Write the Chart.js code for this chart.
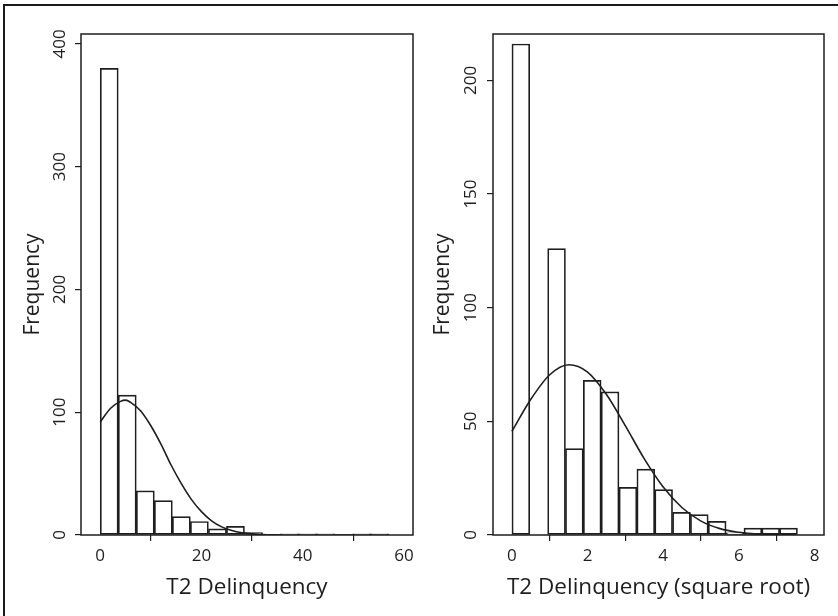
<!DOCTYPE html>
<html>
<head>
<meta charset="utf-8">
<script src="https://cdn.jsdelivr.net/npm/chart.js@4.4.1/dist/chart.umd.min.js"></script>
<style>
  html, body { margin: 0; padding: 0; background: #fff; overflow: hidden; }
  #page { position: relative; width: 838px; height: 616px; overflow: hidden; }
  #frame {
    position: absolute; left: 3px; top: 4px; width: 900px; height: 700px;
    border-top: 2.5px solid #1a1a1a; border-left: 2.5px solid #1a1a1a;
  }
  canvas { position: absolute; top: 0; }
  #left { left: 0; }
  #right { left: 419px; }
</style>
</head>
<body>
<div id="page">
  <div id="frame"></div>
  <canvas id="left" width="419" height="616"></canvas>
  <canvas id="right" width="419" height="616"></canvas>
</div>
<script>
// raw T2 delinquency, 16 bins of width ~3.56 (0..57)
const rawBinMids = [1.78, 5.34, 8.91, 12.47, 16.03, 19.59, 23.16, 26.72, 30.28, 33.84, 37.41, 40.97, 44.53, 48.09, 51.66, 55.22];
const rawCounts = [380, 114, 36, 28, 15, 11, 5, 7, 2, 0, 1, 1, 1, 0, 1, 1];
const rawCurveX = [0, 2, 4, 5, 6, 8, 10, 12, 14, 16, 18, 20, 22, 24, 26, 28, 30, 32, 34, 38, 44, 50, 57];
const rawCurveY = [92, 103, 108.8, 109.8, 108, 101, 89, 74, 57, 42, 29, 19, 11.5, 6.6, 3.6, 1.8, 0.9, 0.4, 0.15, 0, 0, 0, 0];
const rawTicksX = [0, 20, 40, 60];
const rawTicksY = [0, 100, 200, 300, 400];

// square root version, 16 bins of width ~0.472 (0..7.55)
const sqrtBinMids = [0.236, 0.708, 1.180, 1.651, 2.123, 2.595, 3.067, 3.539, 4.011, 4.482, 4.954, 5.426, 5.898, 6.370, 6.841, 7.313];
const sqrtCounts = [216, 0, 126, 38, 68, 63, 21, 29, 20, 10, 9, 6, 1, 3, 3, 3];
const sqrtCurveX = [0, 0.5, 1, 1.5, 2, 2.5, 3, 3.5, 4, 4.5, 5, 5.5, 6, 6.5, 7, 7.5];
const sqrtCurveY = [45.6, 59.7, 70.5, 74.9, 71.7, 61.8, 48, 33.5, 21.1, 12, 6.1, 2.8, 1.2, 0.4, 0.15, 0.05];
const sqrtTicksX = [0, 2, 4, 6, 8];
const sqrtTicksY = [0, 50, 100, 150, 200];

const FONT = "'Open Sans', Lato, sans-serif";
const INK = "#1e1e1e";

// box round the plot area (under the bars) + rotated y tick labels, R style
const rStyle = {
  id: "rStyle",
  beforeDatasetsDraw(chart) {
    const ctx = chart.ctx;
    const a = chart.chartArea;
    ctx.save();
    ctx.strokeStyle = INK;
    ctx.lineWidth = 1.5;
    ctx.strokeRect(a.left, a.top, a.right - a.left, a.bottom - a.top);
    ctx.restore();
  },
  afterDraw(chart, args, opts) {
    const ctx = chart.ctx;
    const a = chart.chartArea;
    const y = chart.scales.y;
    ctx.save();
    ctx.fillStyle = INK;
    ctx.font = "17px " + FONT;
    ctx.textAlign = "center";
    ctx.textBaseline = "middle";
    y.ticks.forEach((t) => {
      const py = y.getPixelForValue(t.value);
      ctx.save();
      ctx.translate(a.left - opts.labelGap, py);
      ctx.rotate(-Math.PI / 2);
      ctx.fillText(String(t.value), 0, 0);
      ctx.restore();
    });
    ctx.restore();
  },
};

function makeHist(id, cfg) {
  new Chart(document.getElementById(id), {
    type: "bar",
    data: {
      datasets: [
        {
          type: "bar",
          data: cfg.mids.map((m, i) => ({ x: m, y: cfg.counts[i] })),
          backgroundColor: "#ffffff",
          borderColor: INK,
          borderWidth: 1.7,
          borderSkipped: false,
          barPercentage: 1,
          categoryPercentage: 1,
          order: 2,
        },
        {
          type: "line",
          data: cfg.curveX.map((x, i) => ({ x: x, y: cfg.curveY[i] })),
          borderColor: INK,
          borderWidth: 1.6,
          pointRadius: 0,
          fill: false,
          cubicInterpolationMode: "monotone",
          order: 1,
        },
      ],
    },
    options: {
      responsive: false,
      animation: false,
      layout: { padding: { left: 0, right: cfg.padRight, top: 34, bottom: 0 } },
      plugins: {
        legend: { display: false },
        tooltip: { enabled: false },
        rStyle: { labelGap: cfg.labelGap },
      },
      scales: {
        x: {
          type: "linear",
          offset: false,
          min: cfg.xMin,
          max: cfg.xMax,
          afterBuildTicks: (s) => { s.ticks = cfg.ticksX.map((v) => ({ value: v })); },
          afterFit: (s) => { s.height = 81; },
          grid: { drawOnChartArea: false, drawTicks: true, tickLength: 6, color: INK, lineWidth: 1.2 },
          border: { display: false },
          ticks: { color: INK, font: { family: FONT, size: 17 }, padding: 5, maxRotation: 0 },
          title: {
            display: true,
            text: cfg.xTitle,
            color: INK,
            font: { family: FONT, size: 22.5 },
            padding: { top: 0, bottom: 15 },
          },
        },
        y: {
          type: "linear",
          min: 0,
          max: cfg.yMax,
          afterBuildTicks: (s) => { s.ticks = cfg.ticksY.map((v) => ({ value: v })); },
          afterFit: (s) => { s.width = cfg.yWidth; },
          grid: { drawOnChartArea: false, drawTicks: true, tickLength: 6, color: INK, lineWidth: 1.2 },
          border: { display: false },
          ticks: { display: false },
          title: {
            display: true,
            text: "Frequency",
            color: INK,
            font: { family: FONT, size: 21 },
            padding: { top: cfg.yTitlePad, bottom: 0 },
          },
        },
      },
    },
    plugins: [rStyle],
  });
}

makeHist("left", {
  mids: rawBinMids, counts: rawCounts, curveX: rawCurveX, curveY: rawCurveY,
  ticksX: rawTicksX, ticksY: rawTicksY,
  xMin: -3.8, xMax: 61.8, yMax: 408,
  xTitle: "T2 Delinquency",
  padRight: 6, yWidth: 81, yTitlePad: 20.5, labelGap: 21,
});

makeHist("right", {
  mids: sqrtBinMids, counts: sqrtCounts, curveX: sqrtCurveX, curveY: sqrtCurveY,
  ticksX: sqrtTicksX, ticksY: sqrtTicksY,
  xMin: -0.5, xMax: 8.25, yMax: 220.4,
  xTitle: "T2 Delinquency (square root)",
  padRight: 14, yWidth: 74, yTitlePad: 11.5, labelGap: 22,
});
</script>
</body>
</html>
